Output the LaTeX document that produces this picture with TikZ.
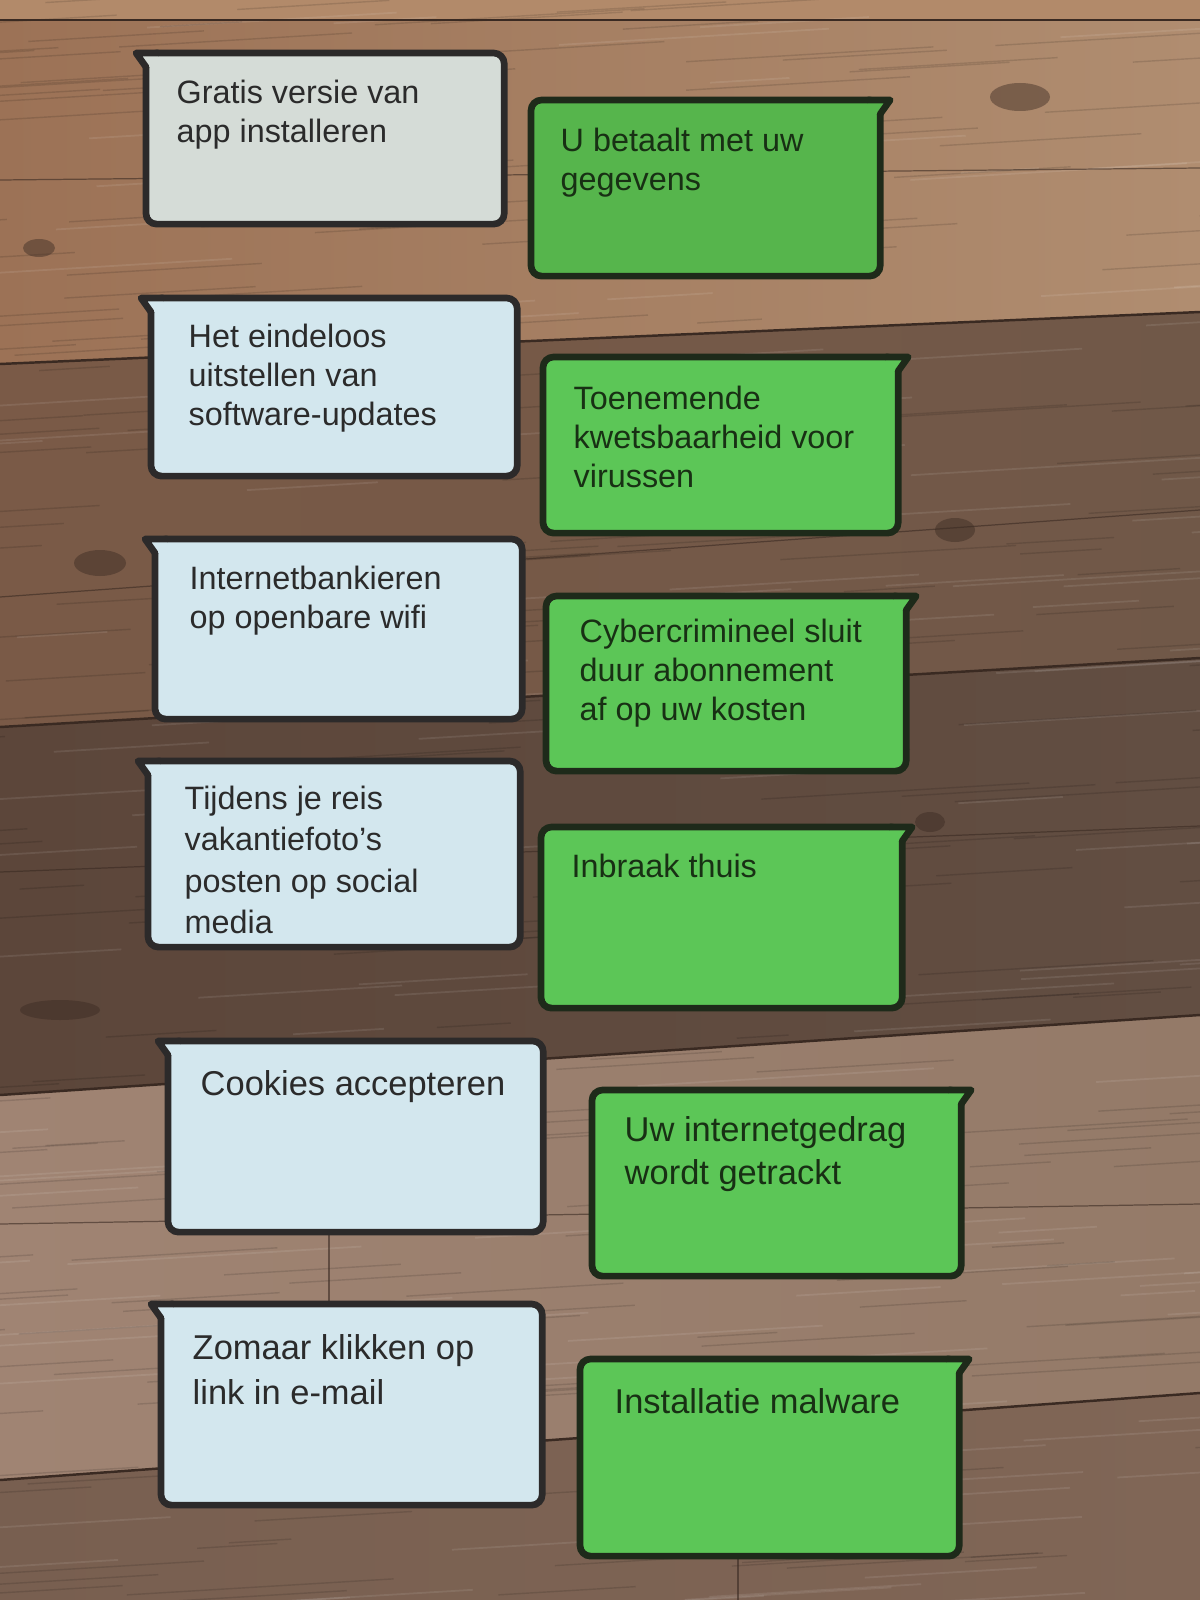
\documentclass[tikz,border=0pt]{standalone}
\usepackage{fontspec}
\setmainfont{Liberation Sans}
\usepackage{tikz}
\usetikzlibrary{positioning,calc}
\definecolor{grijsblauw}{HTML}{D5DCD7}
\definecolor{lichtblauw}{HTML}{D3E7EE}
\definecolor{randblauw}{HTML}{2C2A2A}
\definecolor{donkergroen}{HTML}{56B54C}
\definecolor{groen}{HTML}{5CC657}
\definecolor{randgroen}{HTML}{1E2A1A}
\definecolor{inkt}{HTML}{2B2B2B}
\definecolor{inktgroen}{HTML}{183014}
\definecolor{naadkleur}{HTML}{3A2A22}
\definecolor{plank0}{HTML}{B28A6A}
\tikzset{
    oorzaak/.style={rectangle, draw=randblauw, fill=lichtblauw, line width=1.9pt, rounded corners=3pt, anchor=north west, outer sep=0pt, inner sep=0pt},
    gevolg/.style={oorzaak, draw=randgroen, fill=groen},
    tabrand/.style={line width=1.9pt, line cap=round, line join=round},
    tekst/.style={anchor=north west, inner sep=0pt, align=left, text=inkt, font=\fontsize{9.2pt}{11.2pt}\selectfont},
    tekstgroen/.style={tekst, text=inktgroen},
    groot/.style={font=\fontsize{9.8pt}{12.2pt}\selectfont},
    naad/.style={draw=naadkleur, line width=0.7pt},
    dunnenaad/.style={draw=naadkleur, line width=0.35pt, opacity=0.6},
    nerf/.style={line width=0.4pt, black, opacity=0.12},
    lichtenerf/.style={line width=0.5pt, white, opacity=0.09},
    knoest/.style={fill=naadkleur, opacity=0.45}
}
\begin{document}
\begin{tikzpicture}[x=0.01cm, y=-0.01cm]
    \useasboundingbox (0,0) rectangle (1200,1600);

    % houten vloer
    \begin{scope}
    \clip (0,0) rectangle (1200,1600);
    \fill[plank0] (0,0) rectangle (1200,20);
    \shade[left color={rgb,255:red,156;green,114;blue,86}, right color={rgb,255:red,176;green,141;blue,112}] (0,20) -- (1200,20) -- (1200,312) -- (0,364) -- cycle;
    \shade[left color={rgb,255:red,122;green,90;blue,71}, right color={rgb,255:red,112;green,88;blue,72}] (0,364) -- (1200,312) -- (1200,658) -- (0,727) -- cycle;
    \shade[left color={rgb,255:red,92;green,70;blue,58}, right color={rgb,255:red,98;green,78;blue,66}] (0,727) -- (1200,658) -- (1200,1015) -- (0,1095) -- cycle;
    \shade[left color={rgb,255:red,160;green,132;blue,115}, right color={rgb,255:red,148;green,122;blue,104}] (0,1095) -- (1200,1015) -- (1200,1393) -- (0,1480) -- cycle;
    \shade[left color={rgb,255:red,120;green,95;blue,80}, right color={rgb,255:red,128;green,102;blue,86}] (0,1480) -- (1200,1393) -- (1200,1600) -- (0,1600) -- cycle;

    % nerven
    \pgfmathsetseed{42}
    \foreach \i in {1,...,320}{
        \pgfmathsetmacro{\gx}{rnd*1400-150}
        \pgfmathsetmacro{\gy}{rnd*1650}
        \pgfmathsetmacro{\gl}{50+rnd*220}
        \draw[nerf] (\gx,\gy) -- ++(\gl,-0.06*\gl);
    }
    \foreach \i in {1,...,160}{
        \pgfmathsetmacro{\gx}{rnd*1400-150}
        \pgfmathsetmacro{\gy}{rnd*1650}
        \pgfmathsetmacro{\gl}{60+rnd*240}
        \draw[lichtenerf] (\gx,\gy) -- ++(\gl,-0.06*\gl);
    }

    % knoesten
    \fill[knoest] (39,248) ellipse [x radius=16, y radius=9];
    \fill[knoest] (1020,97) ellipse [x radius=30, y radius=14];
    \fill[knoest] (955,530) ellipse [x radius=20, y radius=12];
    \fill[knoest] (100,563) ellipse [x radius=26, y radius=13];
    \fill[knoest] (930,822) ellipse [x radius=15, y radius=10];
    \fill[knoest] (60,1010) ellipse [x radius=40, y radius=10];

    % naden
    \draw[naad] (0,20) -- (1200,20);
    \draw[naad] (0,364) -- (1200,312);
    \draw[naad] (0,727) -- (1200,658);
    \draw[naad] (0,1095) -- (1200,1015);
    \draw[naad] (0,1480) -- (1200,1393);
    \draw[dunnenaad] (0,180) -- (1200,168);
    \draw[dunnenaad] (0,597) -- (1200,510);
    \draw[dunnenaad] (0,872) -- (1200,826);
    \draw[dunnenaad] (0,1224) -- (1200,1204);
    \draw[dunnenaad] (329,1232) -- (329,1304);
    \draw[dunnenaad] (738,1555) -- (738,1600);
    \end{scope}

    % oorzaken
    \node[oorzaak, fill=grijsblauw, minimum width=3.58cm, minimum height=1.71cm] (o1) at (146,53) {};
    \node[oorzaak, minimum width=3.66cm, minimum height=1.78cm] (o2) at (151,298) {};
    \node[oorzaak, minimum width=3.67cm, minimum height=1.80cm] (o3) at (155,539) {};
    \node[oorzaak, minimum width=3.72cm, minimum height=1.86cm] (o4) at (148,761) {};
    \node[oorzaak, minimum width=3.75cm, minimum height=1.91cm] (o5) at (168,1041) {};
    \node[oorzaak, minimum width=3.81cm, minimum height=2.01cm] (o6) at (161,1304) {};

    % gevolgen
    \node[gevolg, fill=donkergroen, minimum width=3.49cm, minimum height=1.76cm] (g1) at (531,100) {};
    \node[gevolg, minimum width=3.55cm, minimum height=1.76cm] (g2) at (543,357) {};
    \node[gevolg, minimum width=3.60cm, minimum height=1.75cm] (g3) at (546,596) {};
    \node[gevolg, minimum width=3.61cm, minimum height=1.81cm] (g4) at (541,827) {};
    \node[gevolg, minimum width=3.69cm, minimum height=1.86cm] (g5) at (592,1090) {};
    \node[gevolg, minimum width=3.79cm, minimum height=1.97cm] (g6) at (580,1359) {};

    % lipjes
    \foreach \k/\kleur in {o1/grijsblauw,o2/lichtblauw,o3/lichtblauw,o4/lichtblauw,o5/lichtblauw,o6/lichtblauw}{
        \fill[\kleur] ([shift={(-10,0)}]\k.north west) -- ([shift={(12,0)}]\k.north west) -- ([shift={(12,14)}]\k.north west) -- ([shift={(0,14)}]\k.north west) -- cycle;
        \draw[tabrand, randblauw] ([shift={(12,0)}]\k.north west) -- ([shift={(-10,0)}]\k.north west) -- ([shift={(0,14)}]\k.north west);
    }
    \foreach \k/\kleur in {g1/donkergroen,g2/groen,g3/groen,g4/groen,g5/groen,g6/groen}{
        \fill[\kleur] ([shift={(10,0)}]\k.north east) -- ([shift={(-12,0)}]\k.north east) -- ([shift={(-12,14)}]\k.north east) -- ([shift={(0,14)}]\k.north east) -- cycle;
        \draw[tabrand, randgroen] ([shift={(-12,0)}]\k.north east) -- ([shift={(10,0)}]\k.north east) -- ([shift={(0,14)}]\k.north east);
    }

    % teksten
    \node[tekst, below right=0.26cm and 0.30cm of o1.north west] (t1) {Gratis versie van\\app installeren};
    \node[tekst, below right=0.25cm and 0.37cm of o2.north west] (t2) {Het eindeloos\\uitstellen van\\software-updates};
    \node[tekst, below right=0.26cm and 0.34cm of o3.north west] (t3) {Internetbankieren\\op openbare wifi};
    \node[tekst, below right=0.24cm and 0.36cm of o4.north west, font=\fontsize{9.2pt}{11.8pt}\selectfont] (t4) {Tijdens je reis\\vakantiefoto’s\\posten op social\\media};
    \node[tekst, groot, below right=0.29cm and 0.32cm of o5.north west] (t5) {Cookies accepteren};
    \node[tekst, groot, below right=0.30cm and 0.31cm of o6.north west, font=\fontsize{9.8pt}{12.6pt}\selectfont] (t6) {Zomaar klikken op\\link in e-mail};

    \node[tekstgroen, below right=0.27cm and 0.29cm of g1.north west] (u1) {U betaalt met uw\\gegevens};
    \node[tekstgroen, below right=0.28cm and 0.30cm of g2.north west] (u2) {Toenemende\\kwetsbaarheid voor\\virussen};
    \node[tekstgroen, below right=0.22cm and 0.33cm of g3.north west] (u3) {Cybercrimineel sluit\\duur abonnement\\af op uw kosten};
    \node[tekstgroen, below right=0.26cm and 0.30cm of g4.north west] (u4) {Inbraak thuis};
    \node[tekstgroen, groot, below right=0.26cm and 0.32cm of g5.north west] (u5) {Uw internetgedrag\\wordt getrackt};
    \node[tekstgroen, groot, below right=0.29cm and 0.34cm of g6.north west] (u6) {Installatie malware};
\end{tikzpicture}
\end{document}
